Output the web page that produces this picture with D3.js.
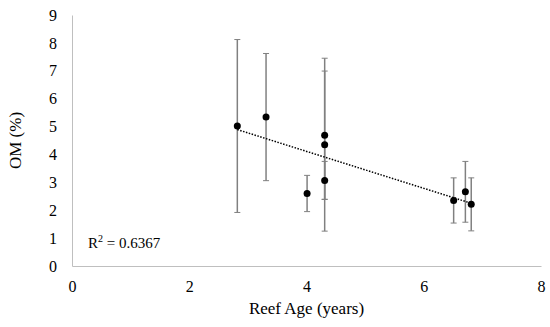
<!DOCTYPE html>
<html>
<head>
<meta charset="utf-8">
<script src="https://cdn.jsdelivr.net/npm/d3@7"></script>
<style>
  body { margin: 0; background: #fff; }
  svg text { font-family: "Liberation Serif", "Times New Roman", serif; }
</style>
</head>
<body>
<svg id="chart" width="550" height="327"></svg>
<script>
  // reef age (years), OM (%) and error (+/-)
  var ages = [2.82, 3.31, 4.01, 4.31, 4.31, 4.31, 6.51, 6.71, 6.81];
  var om   = [5.02, 5.34, 2.60, 4.69, 4.35, 3.07, 2.35, 2.66, 2.21];
  var err  = [3.10, 2.28, 0.65, 2.30, 3.10, 0.68, 0.81, 1.09, 0.95];
  var xTicks = [0, 2, 4, 6, 8];
  var yTicks = [0, 1, 2, 3, 4, 5, 6, 7, 8, 9];

  var svg = d3.select("#chart");
  var margin = {top: 15, right: 9, bottom: 61, left: 72},
      width = 550 - margin.left - margin.right,
      height = 327 - margin.top - margin.bottom;

  var x = d3.scaleLinear().domain([0, 8]).range([0, width]);
  var y = d3.scaleLinear().domain([0, 9]).range([height, 0]);

  var g = svg.append("g").attr("transform", "translate(" + margin.left + "," + margin.top + ")");

  var axisColor = "#bfbfbf";

  var xAxis = g.append("g")
    .attr("transform", "translate(0," + height + ")")
    .call(d3.axisBottom(x).tickValues(xTicks).tickSize(0).tickPadding(15));
  xAxis.attr("font-family", "Liberation Serif").attr("font-size", 16);
  xAxis.select(".domain").attr("stroke", axisColor);
  xAxis.selectAll("text").attr("fill", "#000");

  var yAxis = g.append("g")
    .call(d3.axisLeft(y).tickValues(yTicks).tickSize(0).tickPadding(15));
  yAxis.attr("font-family", "Liberation Serif").attr("font-size", 16);
  yAxis.select(".domain").attr("stroke", axisColor);
  yAxis.selectAll("text").attr("fill", "#000");

  svg.append("text")
    .attr("x", margin.left + width / 2)
    .attr("y", 314)
    .attr("text-anchor", "middle")
    .attr("font-size", 17)
    .text("Reef Age (years)");

  svg.append("text")
    .attr("transform", "translate(21," + (margin.top + height / 2) + ") rotate(-90)")
    .attr("text-anchor", "middle")
    .attr("font-size", 17)
    .text("OM (%)");

  var data = ages.map(function(a, i) { return {x: a, y: om[i], e: err[i]}; });

  // error bars
  var eb = g.append("g").attr("stroke", "#808080").attr("stroke-width", 1.5);
  data.forEach(function(d) {
    eb.append("line")
      .attr("x1", x(d.x)).attr("x2", x(d.x))
      .attr("y1", y(d.y + d.e)).attr("y2", y(d.y - d.e));
    [d.y + d.e, d.y - d.e].forEach(function(v) {
      eb.append("line")
        .attr("x1", x(d.x) - 3).attr("x2", x(d.x) + 3)
        .attr("y1", y(v)).attr("y2", y(v))
        .attr("stroke-width", 1);
    });
  });

  // linear trendline
  var mx = d3.mean(ages), my = d3.mean(om);
  var sxy = d3.sum(data, function(d) { return (d.x - mx) * (d.y - my); });
  var sxx = d3.sum(data, function(d) { return (d.x - mx) * (d.x - mx); });
  var slope = sxy / sxx, icpt = my - slope * mx;
  var x0 = d3.min(ages), x1 = d3.max(ages);

  g.append("line")
    .attr("x1", x(x0)).attr("y1", y(icpt + slope * x0))
    .attr("x2", x(x1)).attr("y2", y(icpt + slope * x1))
    .attr("stroke", "#000")
    .attr("stroke-width", 1.5)
    .attr("stroke-dasharray", "1.5,1.5");

  g.selectAll("circle.pt")
    .data(data)
    .enter().append("circle")
    .attr("class", "pt")
    .attr("cx", function(d) { return x(d.x); })
    .attr("cy", function(d) { return y(d.y); })
    .attr("r", 3.5)
    .attr("fill", "#000");

  var lbl = svg.append("text")
    .attr("x", 88)
    .attr("y", 248)
    .attr("font-size", 15);
  lbl.append("tspan").text("R");
  lbl.append("tspan").attr("font-size", 10).attr("dy", -6).text("2");
  lbl.append("tspan").attr("dy", 6).text(" = 0.6367");
</script>
</body>
</html>
